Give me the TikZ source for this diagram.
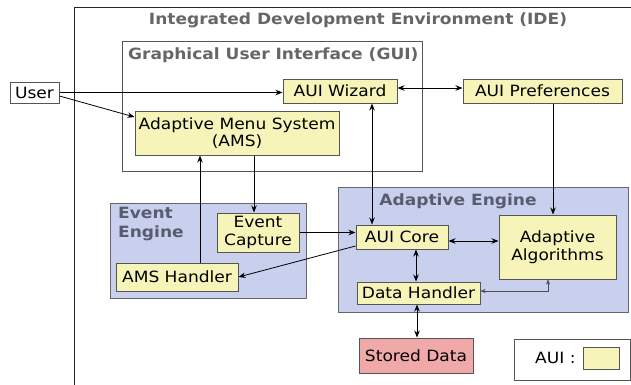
\documentclass[tikz,border=0pt]{standalone}
\usepackage{fontspec}
\setmainfont{DejaVu Sans}[FakeStretch=1.1]
\usetikzlibrary{arrows.meta,calc}
\definecolor{auiyellow}{HTML}{F6F4B8}
\definecolor{engblue}{HTML}{C8D0EE}
\definecolor{storepink}{HTML}{F0A8A8}
\definecolor{framegray}{HTML}{555555}
\definecolor{titlegray}{HTML}{666666}
\definecolor{engtitle}{HTML}{585C6E}
\tikzset{
  box/.style={draw=framegray, line width=1pt, inner sep=0pt, align=center,
    font=\fontsize{15.5}{17.5}\selectfont},
  aui/.style={box, fill=auiyellow},
  container/.style={draw=framegray, line width=1pt, inner sep=0pt},
  enginebox/.style={container, fill=engblue, draw=gray!80!black},
  title/.style={font=\fontsize{15.5}{17}\bfseries\selectfont, text=titlegray, inner sep=0pt},
  arr/.style={line width=0.8pt, -{Stealth[length=7pt,width=5.5pt]}},
  dbl/.style={line width=0.8pt, {Stealth[length=7pt,width=5.5pt]}-{Stealth[length=7pt,width=5.5pt]}},
  thindbl/.style={line width=0.4pt, draw=black!70, {Stealth[length=5pt,width=4pt]}-{Stealth[length=5pt,width=4pt]}},
}
\begin{document}
\begin{tikzpicture}[x=1pt,y=-1pt]
\useasboundingbox (0,0) rectangle (631,384);

% outer IDE frame, running off the right and bottom edges
\begin{scope}
  \clip (0,0) rectangle (631,384);
  \draw[line width=1pt, draw=black!85] (74,400) -- (74,7) -- (650,7);
\end{scope}
\node[title] (idetitle) at (358,20) {Integrated Development Environment (IDE)};

% GUI container
\node[container, minimum width=300pt, minimum height=130pt] (gui) at (272,106) {};
\node[title, anchor=west] (guititle) at (128,55) {Graphical User Interface (GUI)};

% Event Engine container
\node[enginebox, minimum width=196pt, minimum height=95pt] (evt) at (208,250.5) {};
\node[title, anchor=north west, align=left, text=engtitle, font=\fontsize{15.5}{19}\bfseries\selectfont] (evttitle) at (118,207) {Event\\Engine};

% Adaptive Engine container
\node[enginebox, minimum width=290pt, minimum height=125pt] (ae) at (483,249.5) {};
\node[title, text=engtitle] (aetitle) at (458,201) {Adaptive Engine};

% components
\node[box, fill=white, minimum width=49pt, minimum height=21pt] (user) at (34.5,92.5) {User};
\node[aui, minimum width=114pt, minimum height=24pt] (wiz) at (340,91) {AUI Wizard};
\node[aui, minimum width=204pt, minimum height=44pt] (ams) at (237,133) {Adaptive Menu System\\(AMS)};
\node[aui, minimum width=159pt, minimum height=24pt] (pref) at (542.5,91) {AUI Preferences};
\node[aui, minimum width=82pt, minimum height=39pt] (evcap) at (258,232.5) {Event\\Capture};
\node[aui, minimum width=122pt, minimum height=28pt] (amsh) at (177,277) {AMS Handler};
\node[aui, minimum width=92pt, minimum height=24pt] (core) at (402,237) {AUI Core};
\node[aui, minimum width=117pt, minimum height=64pt] (alg) at (557.5,247) {Adaptive\\Algorithms};
\node[aui, minimum width=123pt, minimum height=22pt] (dh) at (418.5,293) {Data Handler};
\node[box, fill=storepink, minimum width=114pt, minimum height=35pt] (stored) at (416,355.5) {Stored Data};

% legend
\node[box, fill=white, minimum width=116pt, minimum height=41pt] (legend) at (572,359.5) {};
\node[box, draw=none, anchor=east] (legendtext) at (576,358) {AUI :};
\node[aui, minimum width=36pt, minimum height=22pt] (swatch) at (601,358) {};

% connectors
\draw[arr] (user.east) -- (user.east -| wiz.west);
\draw[arr] ([yshift=-3.5pt]user.east) -- ([yshift=16pt]ams.west);
\draw[dbl] ([yshift=3pt]wiz.east) -- ([yshift=3pt]pref.west);
\draw[dbl] ([xshift=-30pt]core.north) -- ([xshift=-30pt]core.north |- wiz.south);
\draw[arr] ([xshift=10.5pt]pref.south) -- ([xshift=10.5pt]pref.south |- alg.north);
\draw[arr] ([xshift=23pt]amsh.north) -- ([xshift=23pt]amsh.north |- ams.south);
\draw[arr] ([xshift=-4pt]evcap.north |- ams.south) -- ([xshift=-4pt]evcap.north);
\draw[arr] (evcap.east) -- (evcap.east -| core.west);
\draw[arr] ([yshift=-9pt]core.west) -- (amsh.east);
\draw[dbl] ([yshift=-4pt]core.east) -- ([yshift=-4pt]core.east -| alg.west);
\draw[dbl] ([xshift=14pt]core.south) -- ([xshift=14pt]core.south |- dh.north);
\draw[thindbl] ([yshift=2pt]dh.east) -| ([xshift=-9.5pt]alg.south);
\draw[dbl] ([xshift=-1.5pt]dh.south) -- ([xshift=-1.5pt]dh.south |- stored.north);
\end{tikzpicture}
\end{document}
